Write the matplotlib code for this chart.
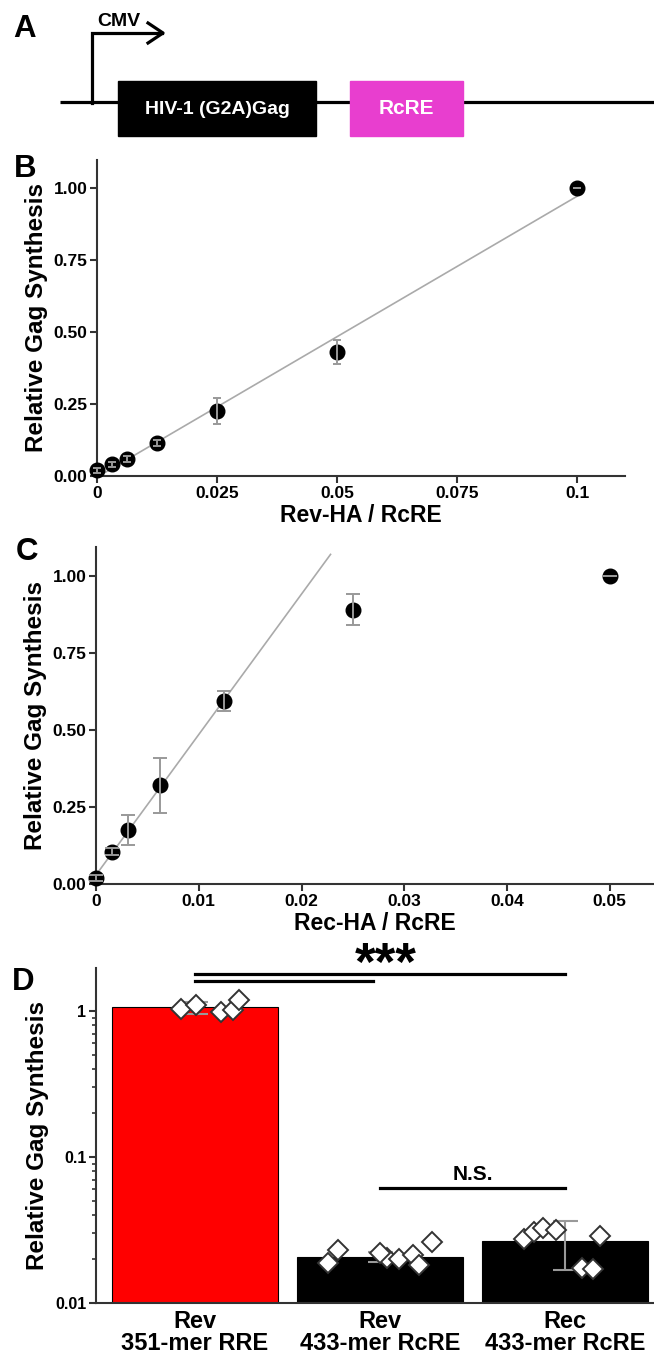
import numpy as np
import matplotlib
matplotlib.use('Agg')
from matplotlib import pyplot as plt
from matplotlib.patches import Rectangle

plt.rcParams['font.family'] = ['Liberation Sans', 'DejaVu Sans']
plt.rcParams['font.weight'] = 'bold'
plt.rcParams['axes.labelweight'] = 'bold'

# panel B: Rev-HA titration
rev_ratio = [0, 0.003125, 0.00625, 0.0125, 0.025, 0.05, 0.1]
rev_gag = [0.02, 0.04, 0.06, 0.115, 0.225, 0.43, 1.0]
rev_err = [0.008, 0.008, 0.01, 0.01, 0.045, 0.04, 0.0]

# panel C: Rec-HA titration
rec_ratio = [0, 0.0015625, 0.003125, 0.00625, 0.0125, 0.025, 0.05]
rec_gag = [0.02, 0.105, 0.175, 0.32, 0.595, 0.89, 1.0]
rec_err = [0.01, 0.012, 0.048, 0.09, 0.033, 0.05, 0.0]

# panel D: bars + replicates
groups = ['Rev\n351-mer RRE', 'Rev\n433-mer RcRE', 'Rec\n433-mer RcRE']
group_mean = [1.06, 0.0207, 0.0266]
group_err = [0.1, 0.0016, 0.0099]
bar_colors = ['#ff0000', 'black', 'black']
reps = [
    [1.03, 1.10, 0.98, 1.02, 1.18],
    [0.0188, 0.0231, 0.0203, 0.022, 0.02, 0.0213, 0.0182, 0.0262],
    [0.0275, 0.0307, 0.0327, 0.0317, 0.0174, 0.0171, 0.0288],
]
rep_offsets = [
    [-0.076, 0.005, 0.14, 0.205, 0.238],
    [-0.28, -0.23, 0.04, 0.0, 0.1, 0.18, 0.21, 0.28],
    [-0.22, -0.17, -0.12, -0.05, 0.09, 0.15, 0.19],
]

W, H = 654, 1355
fig = plt.figure(figsize=(W / 100, H / 100), dpi=100)

def fx(px):
    return px / W

def fy(py):
    return 1 - py / H

spine_c = '#333333'
err_c = '#999999'

def style_axes(ax):
    for s in ['top', 'right']:
        ax.spines[s].set_visible(False)
    for s in ['left', 'bottom']:
        ax.spines[s].set_color(spine_c)
        ax.spines[s].set_linewidth(1.5)
    ax.tick_params(direction='out', length=5, width=1.5, color=spine_c, labelsize=12.5, pad=2)

# ---- A: construct schematic
axA = fig.add_axes([0, fy(150), 1, 150 / H])
axA.set_xlim(0, W)
axA.set_ylim(150, 0)
axA.axis('off')
axA.plot([60, W], [102, 102], color='black', lw=2.3, solid_capstyle='butt')
axA.plot([92, 92, 162], [103, 33, 33], color='black', lw=2.3, solid_joinstyle='miter')
axA.plot([148, 163, 148], [23, 33, 43], color='black', lw=2.3)
axA.add_patch(Rectangle((118, 81), 198, 55, color='black', zorder=3))
axA.add_patch(Rectangle((350, 81), 113, 55, color='#e83ecf', zorder=3))
axA.text(217, 109, 'HIV-1 (G2A)Gag', color='white', fontsize=14, ha='center', va='center', zorder=4)
axA.text(406, 109, 'RcRE', color='white', fontsize=15, ha='center', va='center', zorder=4)
axA.text(119, 22, 'CMV', fontsize=14, ha='center', va='center')

# ---- B
axB = fig.add_axes([fx(97), fy(476), fx(625 - 97), (476 - 160) / H])
style_axes(axB)
slope, icpt = np.polyfit(rev_ratio, rev_gag, 1)
xl = np.array([0, max(rev_ratio)])
axB.plot(xl, slope * xl + icpt, color='#aaaaaa', lw=1.2, zorder=2)
axB.plot(rev_ratio, rev_gag, 'o', color='black', ms=10.5, zorder=3, clip_on=False)
eb = axB.errorbar(rev_ratio, rev_gag, yerr=rev_err, fmt='none', ecolor=err_c, elinewidth=1.4,
                  capsize=3, capthick=1.4, zorder=4)
for ch in eb.get_children():
    ch.set_clip_on(False)
axB.set_xlim(0, 0.11)
axB.set_ylim(0, 1.096)
axB.set_yticks([0, 0.25, 0.5, 0.75, 1.0])
axB.set_yticklabels(['0.00', '0.25', '0.50', '0.75', '1.00'])
axB.set_xticks([0, 0.025, 0.05, 0.075, 0.1])
axB.set_xticklabels(['0', '0.025', '0.05', '0.075', '0.1'])
axB.set_xlabel('Rev-HA / RcRE', fontsize=16.5, labelpad=2)
axB.set_ylabel('Relative Gag Synthesis', fontsize=17.5, labelpad=4)

# ---- C
axC = fig.add_axes([fx(96), fy(884), fx(W - 96), (884 - 547) / H])
style_axes(axC)
slope, icpt = np.polyfit(rec_ratio[:5], rec_gag[:5], 1)
xl = np.array([0, (1.07 - icpt) / slope])
axC.plot(xl, slope * xl + icpt, color='#aaaaaa', lw=1.2, zorder=2)
axC.plot(rec_ratio, rec_gag, 'o', color='black', ms=10.5, zorder=3, clip_on=False)
eb = axC.errorbar(rec_ratio, rec_gag, yerr=rec_err, fmt='none', ecolor=err_c, elinewidth=1.4,
                  capsize=5, capthick=1.4, zorder=4)
for ch in eb.get_children():
    ch.set_clip_on(False)
axC.set_xlim(0, 0.0543)
axC.set_ylim(0, 1.094)
axC.set_yticks([0, 0.25, 0.5, 0.75, 1.0])
axC.set_yticklabels(['0.00', '0.25', '0.50', '0.75', '1.00'])
axC.set_xticks([0, 0.01, 0.02, 0.03, 0.04, 0.05])
axC.set_xticklabels(['0', '0.01', '0.02', '0.03', '0.04', '0.05'])
axC.set_xlabel('Rec-HA / RcRE', fontsize=16.5, labelpad=2)
axC.set_ylabel('Relative Gag Synthesis', fontsize=17.5, labelpad=4)

# ---- D
axD = fig.add_axes([fx(96), fy(1303), fx(W - 96), (1303 - 968) / H])
style_axes(axD)
pos = np.arange(len(groups))
axD.bar(pos, group_mean, width=0.9, color=bar_colors, edgecolor='black', lw=0.8, zorder=2)
axD.errorbar(pos, group_mean, yerr=group_err, fmt='none', ecolor=err_c, elinewidth=1.5,
             capsize=9, capthick=1.5, zorder=3)
for i in range(len(groups)):
    axD.plot(pos[i] + np.array(rep_offsets[i]), reps[i], 'D', ms=10, mfc='white', mec='#333333',
             mew=1.4, ls='none', zorder=4)
axD.set_yscale('log')
axD.set_ylim(0.01, 1.97)
axD.set_xlim(-0.535, 2.48)
axD.set_yticks([0.01, 0.1, 1])
axD.set_yticklabels(['0.01', '0.1', '1'])
axD.tick_params(axis='y', which='minor', length=3, width=1.2, color=spine_c)
axD.tick_params(axis='y', labelsize=11.5)
axD.set_xticks(pos)
axD.set_xticklabels(groups, fontsize=17, linespacing=0.95)
axD.tick_params(axis='x', length=0, pad=5)
axD.set_ylabel('Relative Gag Synthesis', fontsize=17.5, labelpad=4)

# significance bars
axD.plot([0, 2], [1.79, 1.79], color='black', lw=2.3, clip_on=False, zorder=5)
axD.plot([0, 0.96], [1.60, 1.60], color='black', lw=2.3, clip_on=False, zorder=5)
axD.text(1.03, 2.05, '***', fontsize=38, ha='center', va='center', clip_on=False)
axD.plot([1, 2], [0.0613, 0.0613], color='black', lw=2.3, zorder=5)
axD.text(1.5, 0.076, 'N.S.', fontsize=15, ha='center', va='center')

# panel letters
for lab, px, py in [('A', 13, 14), ('B', 14, 154), ('C', 16, 537), ('D', 12, 967)]:
    fig.text(fx(px), fy(py), lab, fontsize=22.5, ha='left', va='top')

fig.savefig('out.png', dpi=100)
